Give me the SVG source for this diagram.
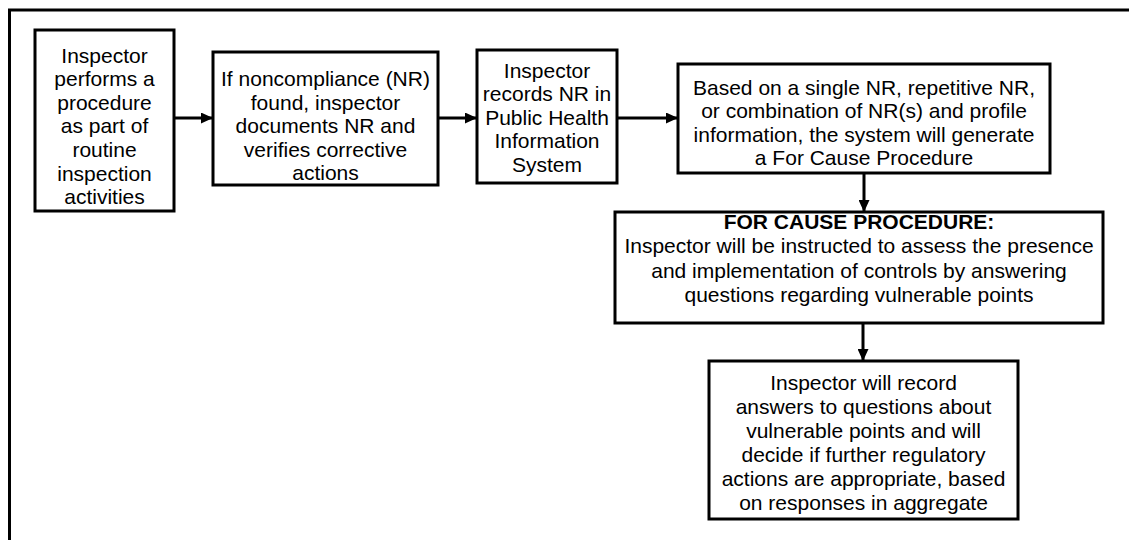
<svg xmlns="http://www.w3.org/2000/svg" width="1129" height="540" viewBox="0 0 1129 540">
<style>
.box{fill:#fff;stroke:#000;stroke-width:3}
.t{font-family:"Liberation Sans",Arial,sans-serif;font-size:21px;fill:#000;text-anchor:middle}
.b{font-weight:bold}
.conn{stroke:#000;stroke-width:3;fill:none}
</style>
<defs>
<marker id="ah" markerUnits="userSpaceOnUse" markerWidth="12" markerHeight="11" refX="12" refY="5.5" orient="auto">
<path d="M0,0 L12,5.5 L0,11 Z" fill="#000"/>
</marker>
</defs>
<rect width="1129" height="540" fill="#fff"/>
<path d="M9.5,540 V10 H1129" fill="none" stroke="#000" stroke-width="3"/>
<g id="connectors">
<line class="conn" x1="174" y1="118" x2="213" y2="118" marker-end="url(#ah)"/>
<line class="conn" x1="438" y1="118" x2="477" y2="118" marker-end="url(#ah)"/>
<line class="conn" x1="617" y1="118" x2="678" y2="118" marker-end="url(#ah)"/>
<line class="conn" x1="864" y1="173" x2="864" y2="212" marker-end="url(#ah)"/>
<line class="conn" x1="863" y1="323" x2="863" y2="361" marker-end="url(#ah)"/>
</g>
<g id="n1">
<rect class="box" x="35" y="30" width="139" height="181"/>
<text class="t" x="104.5" y="62.5">Inspector</text>
<text class="t" x="104.5" y="86">performs a</text>
<text class="t" x="104.5" y="109.5">procedure</text>
<text class="t" x="104.5" y="133">as part of</text>
<text class="t" x="104.5" y="156.5">routine</text>
<text class="t" x="104.5" y="180.5">inspection</text>
<text class="t" x="104.5" y="204">activities</text>
</g>
<g id="n2">
<rect class="box" x="213" y="52" width="225" height="133"/>
<text class="t" x="325.5" y="86">If noncompliance (NR)</text>
<text class="t" x="325.5" y="109.5">found, inspector</text>
<text class="t" x="325.5" y="133">documents NR and</text>
<text class="t" x="325.5" y="156.5">verifies corrective</text>
<text class="t" x="325.5" y="180">actions</text>
</g>
<g id="n3">
<rect class="box" x="477" y="50" width="140" height="133"/>
<text class="t" x="547" y="77.5">Inspector</text>
<text class="t" x="547" y="101">records NR in</text>
<text class="t" x="547" y="124.5">Public Health</text>
<text class="t" x="547" y="148">Information</text>
<text class="t" x="547" y="172">System</text>
</g>
<g id="n4">
<rect class="box" x="678" y="64" width="372" height="109"/>
<text class="t" x="864" y="94.5">Based on a single NR, repetitive NR,</text>
<text class="t" x="864" y="118">or combination of NR(s) and profile</text>
<text class="t" x="864" y="141.5">information, the system will generate</text>
<text class="t" x="864" y="165">a For Cause Procedure</text>
</g>
<g id="n5">
<rect class="box" x="615" y="212" width="488" height="111"/>
<text class="t b" x="859" y="228.5">FOR CAUSE PROCEDURE:</text>
<text class="t" x="859" y="253">Inspector will be instructed to assess the presence</text>
<text class="t" x="859" y="277.5">and implementation of controls by answering</text>
<text class="t" x="859" y="302">questions regarding vulnerable points</text>
</g>
<g id="n6">
<rect class="box" x="709" y="361" width="309" height="158"/>
<text class="t" x="863.5" y="389.5">Inspector will record</text>
<text class="t" x="863.5" y="413.5">answers to questions about</text>
<text class="t" x="863.5" y="437.5">vulnerable points and will</text>
<text class="t" x="863.5" y="461.5">decide if further regulatory</text>
<text class="t" x="863.5" y="485.5">actions are appropriate, based</text>
<text class="t" x="863.5" y="509.5">on responses in aggregate</text>
</g>
</svg>
